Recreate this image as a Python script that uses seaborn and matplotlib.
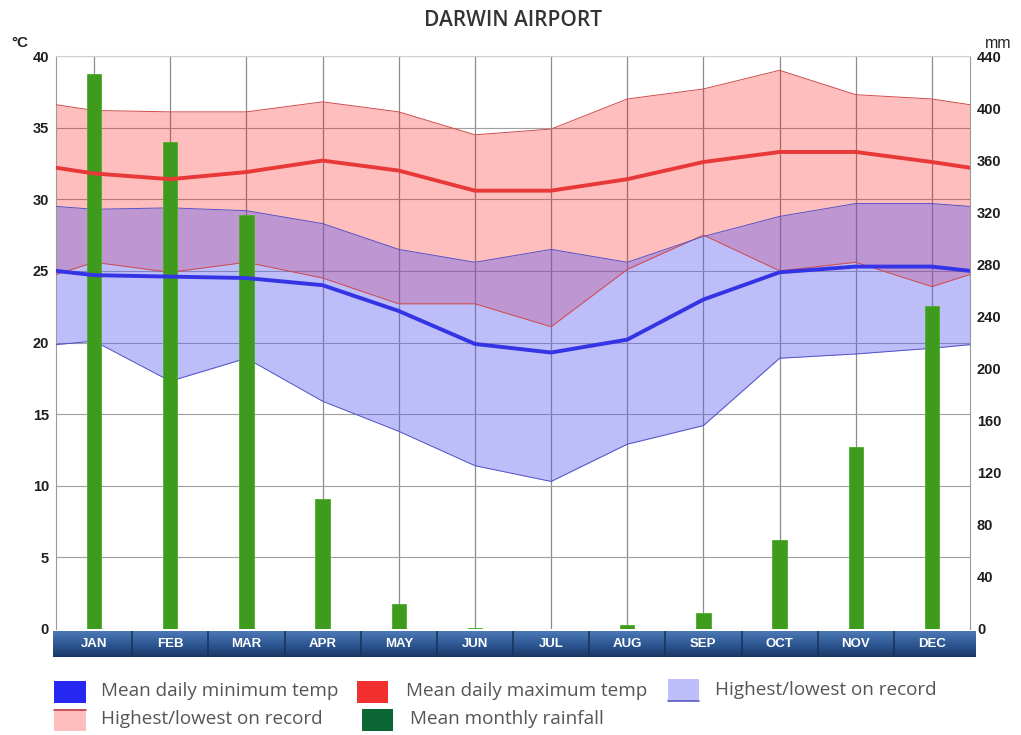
import numpy as np
import pandas as pd
import matplotlib
matplotlib.use("Agg")
import matplotlib.pyplot as plt
import seaborn as sns
from matplotlib.patches import Rectangle
from matplotlib.lines import Line2D
from matplotlib.colors import LinearSegmentedColormap

# ---------------- data ----------------
months = ["JAN", "FEB", "MAR", "APR", "MAY", "JUN", "JUL", "AUG", "SEP", "OCT", "NOV", "DEC"]
mean_max = [31.8, 31.4, 31.9, 32.7, 32.0, 30.6, 30.6, 31.4, 32.6, 33.3, 33.3, 32.6]
mean_min = [24.7, 24.6, 24.5, 24.0, 22.2, 19.9, 19.3, 20.2, 23.0, 24.9, 25.3, 25.3]
max_record_high = [36.2, 36.1, 36.1, 36.8, 36.1, 34.5, 34.9, 37.0, 37.7, 39.0, 37.3, 37.0]
max_record_low = [25.6, 24.9, 25.6, 24.5, 22.7, 22.7, 21.1, 25.1, 27.5, 25.0, 25.6, 23.9]
min_record_high = [29.3, 29.4, 29.2, 28.3, 26.5, 25.6, 26.5, 25.6, 27.4, 28.8, 29.7, 29.7]
min_record_low = [20.1, 17.3, 18.9, 15.9, 13.8, 11.4, 10.3, 12.9, 14.2, 18.9, 19.2, 19.6]
rainfall = [426, 374, 318, 100, 19, 1, 0, 3, 12, 68, 140, 248]
temp_ticks = list(range(0, 41, 5))
rain_ticks = list(range(0, 441, 40))

# series wrap around the year at the plot edges (half-way between DEC and JAN)
x_pos = [-0.5] + list(range(len(months))) + [len(months) - 0.5]


def wrap(v):
    edge = (v[0] + v[-1]) / 2.0
    return [edge] + list(v) + [edge]


df = pd.DataFrame({
    "x": x_pos,
    "mean_max": wrap(mean_max),
    "mean_min": wrap(mean_min),
    "max_hi": wrap(max_record_high),
    "max_lo": wrap(max_record_low),
    "min_hi": wrap(min_record_high),
    "min_lo": wrap(min_record_low),
})
rain_df = pd.DataFrame({"month": months, "rain": rainfall})

# ---------------- style ----------------
sns.set_style("white")
plt.rcParams["font.family"] = ["Liberation Sans", "DejaVu Sans"]

W, H = 1021, 735
fig = plt.figure(figsize=(W / 100, H / 100), dpi=100)


def fx(x):
    return x / W


def fy(y):
    return 1 - y / H


L, R, T, B = 56, 970, 56, 629
ax = fig.add_axes([fx(L), fy(B), (R - L) / W, (B - T) / H])
ax2 = ax.twinx()
ax3 = ax.twinx()

# background grid + record bands (temperature axis)
ax.set_xlim(-0.5, 11.5)
ax.set_ylim(0, 40)
ax.set_xticks(range(12))
ax.set_yticks(temp_ticks)
ax.grid(axis="y", color="#a0a0a0", lw=0.8)
ax.grid(axis="x", color="#8c8c8c", lw=0.9)
ax.set_axisbelow(True)

ax.fill_between(df["x"], df["max_lo"], df["max_hi"], color=(1, 0, 0), alpha=0.255, lw=0, zorder=1)
ax.fill_between(df["x"], df["min_lo"], df["min_hi"], color=(92 / 255, 92 / 255, 242 / 255), alpha=0.4, lw=0, zorder=2)
for col in ["max_hi", "max_lo"]:
    ax.plot(df["x"], df[col], color="#d04a4a", lw=0.7, zorder=3)
for col in ["min_hi", "min_lo"]:
    ax.plot(df["x"], df[col], color="#5252c8", lw=0.7, zorder=3)

# rainfall bars (mm axis)
sns.barplot(data=rain_df, x="month", y="rain", ax=ax2, color="#3e9b1e", width=0.19,
            saturation=1, edgecolor="#4cae28", linewidth=0.6)
ax2.set_ylim(0, 440)
ax2.set_yticks(rain_ticks)
ax2.set_xlim(-0.5, 11.5)
ax2.set_ylabel("")
ax2.set_xlabel("")

# mean lines (temperature axis, on top)
sns.lineplot(data=df, x="x", y="mean_max", ax=ax3, color="#e83838", lw=2.8, zorder=5)
sns.lineplot(data=df, x="x", y="mean_min", ax=ax3, color="#3434e6", lw=2.8, zorder=5)
ax3.set_ylim(0, 40)
ax3.set_xlim(-0.5, 11.5)
ax3.set_ylabel("")
ax3.set_xlabel("")
ax3.set_yticks([])

for a in (ax, ax2, ax3):
    a.tick_params(axis="x", bottom=False, labelbottom=False, top=False)
    for s in a.spines.values():
        s.set_visible(False)

ax.set_ylabel("")
ax.tick_params(axis="y", length=0, pad=5, labelsize=10.5, labelcolor="#1e1e1e")
ax2.tick_params(axis="y", length=0, pad=5, labelsize=10.5, labelcolor="#1e1e1e")
for t in ax.get_yticklabels() + ax2.get_yticklabels():
    t.set_fontweight("bold")

ax.spines["left"].set_visible(True)
ax.spines["left"].set_color("#9a9a9a")
ax.spines["top"].set_visible(True)
ax.spines["top"].set_color("#cfcfcf")
ax.spines["right"].set_visible(True)
ax.spines["right"].set_color("#9a9a9a")

# ---------------- month band ----------------
bx0, bx1, by0, by1 = 53, 975, 631, 657
band = fig.add_axes([fx(bx0), fy(by1), (bx1 - bx0) / W, (by1 - by0) / H])
px = 12 / (R - L)
xl, xr = -0.5 - (L - bx0) * px, 11.5 + (bx1 - R) * px
cmap = LinearSegmentedColormap.from_list("band", ["#4f7bb8", "#2f5a96", "#1a3866"])
band.imshow(np.linspace(0, 1, 60).reshape(-1, 1), cmap=cmap, aspect="auto",
            extent=[xl, xr, 0, 1], origin="upper")
band.set_xlim(xl, xr)
band.set_ylim(0, 1)
for k in range(11):
    band.axvline(k + 0.5, color="#183259", lw=1.1)
band.set_yticks([])
band.set_xticks(range(12))
band.set_xticklabels(months)
band.tick_params(axis="x", length=0, pad=-9.4, labelsize=9.5, labelcolor="white")
for t in band.get_xticklabels():
    t.set_va("center")
    t.set_fontweight("bold")
for s in band.spines.values():
    s.set_visible(False)

# ---------------- texts ----------------
fig.text(fx(513), fy(20), "DARWIN AIRPORT", ha="center", va="center", fontsize=15,
         family=["Open Sans", "DejaVu Sans"], fontweight="semibold", color="#333333")
fig.text(fx(11), fy(43), "°C", ha="left", va="center", fontsize=11, fontweight="bold", color="#222222")
fig.text(fx(985), fy(43), "mm", ha="left", va="center", fontsize=11.5, color="#222222")

# ---------------- legend ----------------
def sq(x0, y0, x1, y1, color):
    fig.patches.append(Rectangle((fx(x0), fy(y1)), (x1 - x0) / W, (y1 - y0) / H,
                                 transform=fig.transFigure, facecolor=color, edgecolor="none"))


def hline(x0, x1, y, color):
    fig.lines.append(Line2D([fx(x0), fx(x1)], [fy(y), fy(y)], transform=fig.transFigure,
                            color=color, lw=1.2))


sq(54, 681, 86, 703, "#2727f2")
sq(357, 681, 388, 703, "#f23030")
sq(668, 679, 699, 701, "#bebefa")
hline(668, 699, 701, "#5a5ac8")
sq(54, 709, 86, 731, "#ffbebe")
hline(54, 86, 709.5, "#c04040")
sq(362, 709, 393, 731, "#0b6636")

lg = dict(ha="left", va="center", fontsize=13.6, color="#555555",
          family=["Open Sans", "DejaVu Sans"])
fig.text(fx(101), fy(691), "Mean daily minimum temp", **lg)
fig.text(fx(406), fy(691), "Mean daily maximum temp", **lg)
fig.text(fx(715), fy(690), "Highest/lowest on record", **lg)
fig.text(fx(101), fy(719), "Highest/lowest on record", **lg)
fig.text(fx(410), fy(719), "Mean monthly rainfall", **lg)

fig.savefig("out.png", dpi=100)
